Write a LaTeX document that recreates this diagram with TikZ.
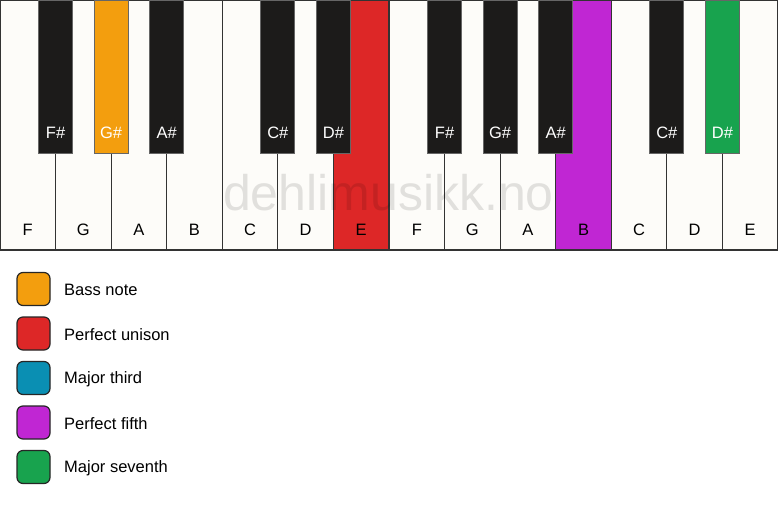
\documentclass[tikz,border=0pt]{standalone}
\usepackage{fontspec}
\setmainfont{Liberation Sans}
\begin{document}
\begin{tikzpicture}[x=1pt,y=-1pt,
  whitekey/.style={draw=black!80,line width=1.2pt,fill=keywhite},
  blackkey/.style={draw=black!60,line width=1pt,fill=keyblack},
  wlabel/.style={font=\fontsize{16.5}{16.5}\selectfont,text=black},
  blabel/.style={font=\fontsize{16.5}{16.5}\selectfont,text=white},
  legbox/.style={draw=black!85,line width=1.2pt,rounded corners=6pt,minimum width=33pt,minimum height=33pt,inner sep=0pt},
  legtext/.style={font=\fontsize{16.5}{16.5}\selectfont,anchor=west,inner sep=0pt}]
\definecolor{keywhite}{HTML}{FDFCF9}
\definecolor{keyblack}{HTML}{1C1B1A}
\definecolor{corange}{HTML}{F39E0E}
\definecolor{cred}{HTML}{DD2727}
\definecolor{cblue}{HTML}{0A8FB3}
\definecolor{cpurple}{HTML}{C026D3}
\definecolor{cgreen}{HTML}{18A34E}
\useasboundingbox[fill=white] (0,0) rectangle (778,506);
\def\w{55.571}
% white keys
\foreach \n/\c [count=\i from 0] in {F/keywhite,G/keywhite,A/keywhite,B/keywhite,C/keywhite,D/keywhite,E/cred,F/keywhite,G/keywhite,A/keywhite,B/cpurple,C/keywhite,D/keywhite,E/keywhite}{
  \draw[whitekey,fill=\c] ({\i*\w},0.6) rectangle ({(\i+1)*\w},250);
  \node[wlabel] (w\i) at ({(\i+0.5)*\w},230) {\n};
}
% watermark
\node[font=\fontsize{50}{50}\selectfont,text=black,text opacity=0.11] (wm) at (388.5,193) {dehlimusikk.no};
% black keys
\foreach \b/\n/\c in {1/F\#/keyblack,2/G\#/corange,3/A\#/keyblack,5/C\#/keyblack,6/D\#/keyblack,8/F\#/keyblack,9/G\#/keyblack,10/A\#/keyblack,12/C\#/keyblack,13/D\#/cgreen}{
  \draw[blackkey,fill=\c] ({\b*\w-17},0.5) rectangle ({\b*\w+17},153);
  \node[blabel] (b\b) at ({\b*\w},133) {\n};
}
% legend
\foreach \c/\t [count=\k from 0] in {corange/Bass note,cred/Perfect unison,cblue/Major third,cpurple/Perfect fifth,cgreen/Major seventh}{
  \node[legbox,fill=\c] (lb\k) at (33.5,{289+\k*44.5}) {};
  \node[legtext] (lt\k) at (64,{290+\k*44.5}) {\t};
}
\end{tikzpicture}
\end{document}
